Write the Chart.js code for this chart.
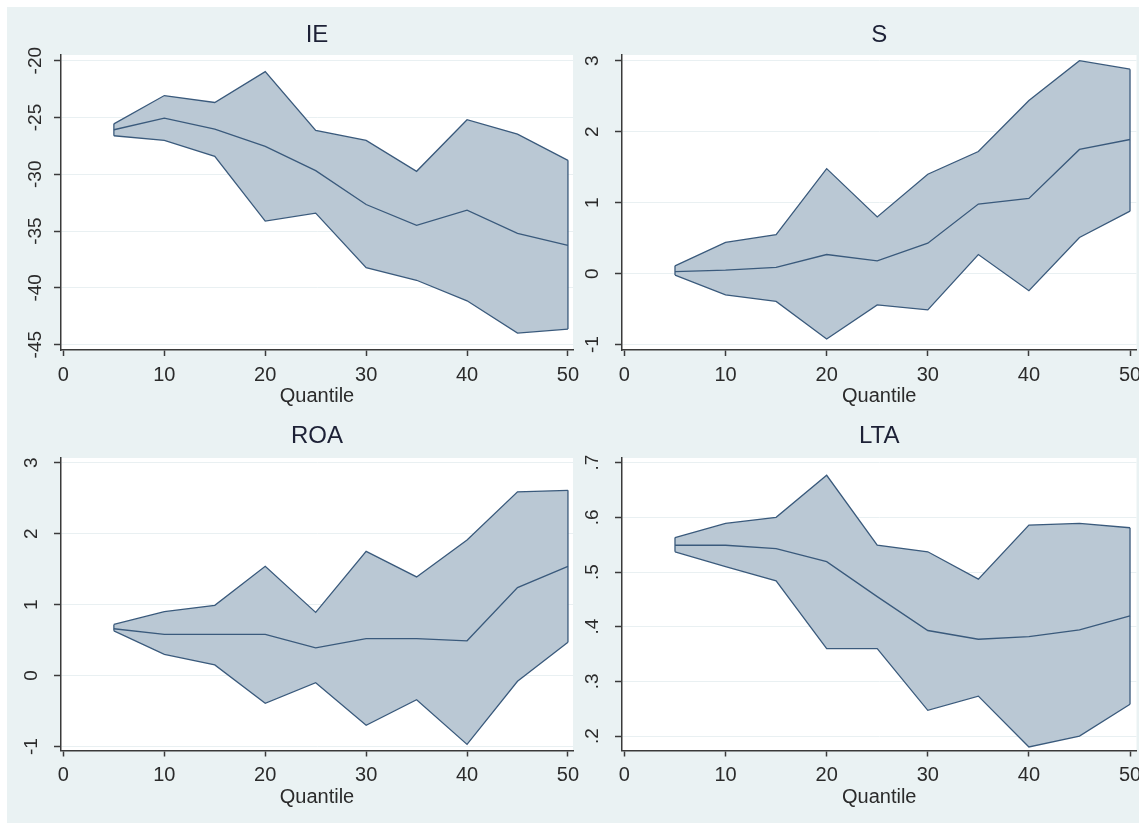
<!DOCTYPE html>
<html>
<head>
<meta charset="utf-8">
<script src="https://cdn.jsdelivr.net/npm/chart.js@4/dist/chart.umd.min.js"></script>
<style>
  html, body { margin: 0; padding: 0; background: #ffffff; }
  #frame { position: absolute; left: 7px; top: 7px; width: 1132px; height: 816px; background: #eaf2f3; }
  canvas { position: absolute; }
</style>
</head>
<body>
<div id="frame"></div>
<canvas id="cIE"  width="580" height="410" style="left:7px;top:7px"></canvas>
<canvas id="cS"   width="566" height="410" style="left:573px;top:7px"></canvas>
<canvas id="cROA" width="580" height="406" style="left:7px;top:417px"></canvas>
<canvas id="cLTA" width="566" height="406" style="left:573px;top:417px"></canvas>
<script>
// Quantile regression coefficients with confidence bands
const QUANTILES = [5, 10, 15, 20, 25, 30, 35, 40, 45, 50];

const IE_UPPER = [-25.56, -23.07, -23.68, -20.96, -26.14, -27.02, -29.74, -25.20, -26.46, -28.77];
const IE_EST   = [-26.08, -25.06, -26.02, -27.54, -29.68, -32.66, -34.50, -33.16, -35.20, -36.26];
const IE_LOWER = [-26.61, -27.02, -28.42, -34.12, -33.42, -38.22, -39.33, -41.14, -43.98, -43.63];

const S_UPPER = [0.11, 0.44, 0.55, 1.48, 0.80, 1.40, 1.72, 2.44, 3.00, 2.88];
const S_EST   = [0.03, 0.05, 0.09, 0.27, 0.18, 0.43, 0.98, 1.06, 1.75, 1.89];
const S_LOWER = [-0.02, -0.30, -0.39, -0.92, -0.44, -0.51, 0.27, -0.24, 0.51, 0.88];

const ROA_UPPER = [0.72, 0.90, 0.99, 1.54, 0.89, 1.75, 1.39, 1.91, 2.59, 2.61];
const ROA_EST   = [0.66, 0.58, 0.58, 0.58, 0.39, 0.52, 0.52, 0.49, 1.24, 1.54];
const ROA_LOWER = [0.63, 0.30, 0.15, -0.39, -0.10, -0.70, -0.34, -0.97, -0.08, 0.47];

const LTA_UPPER = [0.563, 0.589, 0.600, 0.677, 0.549, 0.537, 0.487, 0.586, 0.589, 0.581];
const LTA_EST   = [0.549, 0.549, 0.543, 0.519, 0.455, 0.393, 0.377, 0.382, 0.394, 0.420];
const LTA_LOWER = [0.537, 0.510, 0.484, 0.360, 0.360, 0.247, 0.273, 0.180, 0.200, 0.258];

const X_TICKS   = [0, 10, 20, 30, 40, 50];
const IE_TICKS  = [-45, -40, -35, -30, -25, -20];
const S_TICKS   = [-1, 0, 1, 2, 3];
const ROA_TICKS = [-1, 0, 1, 2, 3];
const LTA_TICKS = [0.2, 0.3, 0.4, 0.5, 0.6, 0.7];

const FONT = "'Liberation Sans', Arial, sans-serif";
const BAND_FILL = 'rgb(186, 200, 212)';
const LINE = 'rgb(58, 90, 124)';
const AXIS = '#3a3a3a';
const GRID = '#e9f0f2';
const TEXT = '#2b2b2b';
const TITLE = '#1d2136';

// white plot region behind grid and data
const plotBg = {
  id: 'plotBg',
  beforeDraw(chart) {
    const { ctx, chartArea: a } = chart;
    ctx.save();
    ctx.fillStyle = '#ffffff';
    ctx.fillRect(a.left, a.top, a.right - a.left, a.bottom - a.top);
    ctx.restore();
  }
};

function fmtTick(v) {
  const s = String(+Number(v).toFixed(3));
  return s.replace(/^(-?)0\./, '$1.');
}

function panel(id, title, lower, est, upper, yTicks, cfg) {
  const pts = arr => QUANTILES.map((q, i) => ({ x: q, y: arr[i] }));
  const n = QUANTILES.length - 1;
  const base = { borderColor: LINE, borderWidth: 1.3, pointRadius: 0, tension: 0, fill: false };
  new Chart(document.getElementById(id), {
    type: 'line',
    data: {
      datasets: [
        Object.assign({}, base, { data: pts(upper), fill: '+1', backgroundColor: BAND_FILL }),
        Object.assign({}, base, { data: pts(lower) }),
        Object.assign({}, base, { data: pts(est) }),
        Object.assign({}, base, { data: [{ x: QUANTILES[0], y: lower[0] }, { x: QUANTILES[0], y: upper[0] }] }),
        Object.assign({}, base, { data: [{ x: QUANTILES[n], y: lower[n] }, { x: QUANTILES[n], y: upper[n] }] })
      ]
    },
    options: {
      responsive: false,
      animation: false,
      devicePixelRatio: 1,
      layout: { padding: { left: 0, right: cfg.padRight, top: 0, bottom: 0 } },
      plugins: {
        legend: { display: false },
        tooltip: { enabled: false },
        filler: { drawTime: 'beforeDatasetsDraw' },
        title: {
          display: true, text: title, fullSize: false, color: TITLE,
          font: { family: FONT, size: 24, weight: 'normal', lineHeight: 1.2 },
          padding: { top: cfg.titleTop, bottom: cfg.titleBottom }
        }
      },
      scales: {
        x: {
          type: 'linear', min: cfg.xMin, max: cfg.xMax,
          afterBuildTicks: s => { s.ticks = X_TICKS.map(v => ({ value: v })); },
          afterFit: s => { s.height = cfg.xHeight; s.paddingLeft = 0; s.paddingRight = 0; },
          grid: { display: true, drawOnChartArea: false, drawTicks: true, tickLength: 6, tickColor: AXIS, tickWidth: 1.5 },
          border: { display: true, color: AXIS, width: 1.5 },
          ticks: { color: TEXT, font: { family: FONT, size: 20 }, padding: 7, maxRotation: 0, autoSkip: false },
          title: { display: true, text: 'Quantile', color: TEXT, font: { family: FONT, size: 20 }, padding: { top: 0, bottom: cfg.qPad } }
        },
        y: {
          type: 'linear', min: cfg.yMin, max: cfg.yMax,
          afterBuildTicks: s => { s.ticks = yTicks.map(v => ({ value: v })); },
          afterFit: s => { s.width = cfg.yWidth; s.paddingTop = 0; s.paddingBottom = 0; },
          grid: { color: GRID, lineWidth: 1, drawTicks: true, tickLength: 7, tickColor: AXIS, tickWidth: 1.5 },
          border: { display: true, color: AXIS, width: 1.5 },
          ticks: {
            color: TEXT, font: { family: FONT, size: 19 }, minRotation: 90, maxRotation: 90,
            crossAlign: 'center', padding: cfg.yPad, autoSkip: false, callback: v => fmtTick(v)
          }
        }
      }
    },
    plugins: [plotBg]
  });
}

panel('cIE', 'IE', IE_LOWER, IE_EST, IE_UPPER, IE_TICKS, {
  padRight: 14, titleTop: 13.6, titleBottom: 5.6, xHeight: 67, qPad: 8.3, yWidth: 54, yPad: 4.7,
  xMin: -0.24, xMax: 50.5, yMin: -45.47, yMax: -19.5
});
panel('cS', 'S', S_LOWER, S_EST, S_UPPER, S_TICKS, {
  padRight: 2.5, titleTop: 13.6, titleBottom: 5.6, xHeight: 67, qPad: 8.3, yWidth: 49, yPad: 13.3,
  xMin: -0.24, xMax: 50.64, yMin: -1.075, yMax: 3.08
});
panel('cROA', 'ROA', ROA_LOWER, ROA_EST, ROA_UPPER, ROA_TICKS, {
  padRight: 14, titleTop: 5.3, titleBottom: 6.9, xHeight: 72.5, qPad: 13.3, yWidth: 54, yPad: 13.6,
  xMin: -0.24, xMax: 50.5, yMin: -1.056, yMax: 3.066
});
panel('cLTA', 'LTA', LTA_LOWER, LTA_EST, LTA_UPPER, LTA_TICKS, {
  padRight: 2.5, titleTop: 5.3, titleBottom: 6.9, xHeight: 72.5, qPad: 13.3, yWidth: 49, yPad: 14.1,
  xMin: -0.24, xMax: 50.64, yMin: 0.1735, yMax: 0.7086
});
</script>
</body>
</html>
